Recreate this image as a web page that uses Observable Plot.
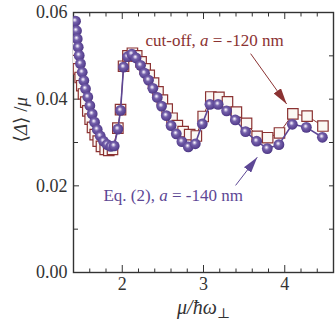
<!DOCTYPE html>
<html><head><meta charset="utf-8">
<script src="https://cdn.jsdelivr.net/npm/d3@7"></script>
<script src="https://cdn.jsdelivr.net/npm/@observablehq/plot@0.6"></script>
<style>
body{margin:0;background:#fff}
#chart svg, #chart svg text, #chart svg tspan {font-family: "Liberation Serif", "Times New Roman", "DejaVu Serif", serif !important;}
</style>
</head><body><div id="chart"></div>
<script>
// Eq. (2), a = -140 nm (purple spheres)
const eqX = [1.425,1.437,1.446,1.458,1.470,1.486,1.507,1.527,1.548,1.576,1.601,1.630,1.659,1.692,1.729,1.769,1.815,1.859,1.901,1.946,1.979,2.016,2.065,2.118,2.170,2.225,2.274,2.324,2.377,2.431,2.484,2.542,2.601,2.665,2.734,2.813,2.899,2.985,3.079,3.180,3.284,3.391,3.518,3.654,3.785,3.928,4.093,4.266,4.463];
const eqY = [0.0580,0.0558,0.0539,0.0520,0.0501,0.0482,0.0462,0.0443,0.0424,0.0405,0.0385,0.0366,0.0347,0.0330,0.0315,0.0303,0.0295,0.0291,0.0292,0.0331,0.0374,0.0474,0.0498,0.0504,0.0495,0.0478,0.0460,0.0444,0.0425,0.0404,0.0384,0.0362,0.0339,0.0320,0.0302,0.0290,0.0297,0.0343,0.0388,0.0388,0.0373,0.0352,0.0325,0.0303,0.0286,0.0295,0.0342,0.0335,0.0312];
// cut-off, a = -120 nm (open squares)
const cutX = [1.421,1.433,1.445,1.461,1.482,1.502,1.523,1.551,1.576,1.605,1.634,1.667,1.704,1.744,1.790,1.834,1.880,1.946,1.979,2.016,2.070,2.125,2.178,2.232,2.282,2.332,2.385,2.440,2.494,2.553,2.613,2.678,2.749,2.830,2.912,2.996,3.090,3.190,3.295,3.405,3.530,3.660,3.790,3.935,4.100,4.275,4.470];
const cutY = [0.0527,0.0508,0.0489,0.0470,0.0450,0.0431,0.0412,0.0393,0.0373,0.0354,0.0335,0.0318,0.0303,0.0291,0.0284,0.0282,0.0284,0.0333,0.0376,0.0476,0.0500,0.0506,0.0500,0.0486,0.0470,0.0455,0.0437,0.0417,0.0398,0.0377,0.0356,0.0339,0.0325,0.0318,0.0315,0.0360,0.0405,0.0404,0.0394,0.0370,0.0344,0.0314,0.0311,0.0322,0.0366,0.0361,0.0338];

const xMajorTicks = [2, 3, 4];
const xMinorTicks = [1.6, 1.8, 2.2, 2.4, 2.6, 2.8, 3.2, 3.4, 3.6, 3.8, 4.2, 4.4];
const yMajorTicks = [0, 0.02, 0.04, 0.06];
const yMinorTicks = [0.01, 0.03, 0.05];

const cutLabel = "cut-off, a = -120 nm";
const eqLabel = "Eq. (2), a = -140 nm";
const cutLabelPos = [2.287, 0.0535];
const eqLabelPos = [1.769, 0.0178];
const cutArrow = [3.58, 0.0505, 4.023, 0.0389];
const eqArrow = [3.395, 0.0201, 3.662, 0.0266];
const xTitle = "μ/ħω⊥";
const yTitle = "⟨Δ⟩ /μ";

const RED = "#8b3232";
const PURPLE = "#5d4795";

const eq = eqX.map((x, i) => ({x, y: eqY[i]}));
const cut = cutX.map((x, i) => ({x, y: cutY[i]}));

const serif = '"Liberation Serif", "Times New Roman", "DejaVu Serif", serif';

const plot = Plot.plot({
  width: 335, height: 324,
  marginLeft: 73, marginRight: 2, marginTop: 12, marginBottom: 52,
  style: {fontFamily: serif, fontSize: "18px", color: "#333", background: "#fff"},
  x: {domain: [1.4, 4.6]},
  y: {domain: [0, 0.06]},
  marks: [
    Plot.axisX(xMinorTicks, {anchor: "bottom", tickSize: -3.5, tickFormat: () => "", label: null, stroke: "#333"}),
    Plot.axisX(xMajorTicks, {anchor: "bottom", tickSize: -7, tickPadding: 12, tickFormat: d => String(d), label: null, fontSize: 18, fontFamily: serif, fill: "#333", stroke: "#333"}),
    Plot.axisX(xMinorTicks, {anchor: "top", tickSize: -3.5, tickFormat: () => "", label: null, stroke: "#333"}),
    Plot.axisX(xMajorTicks, {anchor: "top", tickSize: -6, tickFormat: () => "", label: null, stroke: "#333"}),
    Plot.axisY(yMajorTicks, {anchor: "left", tickSize: -6, tickPadding: 12, tickFormat: d => d.toFixed(2), label: null, fontSize: 18, fontFamily: serif, fill: "#333", stroke: "#333"}),
    Plot.axisY(yMinorTicks, {anchor: "left", tickSize: -5, tickFormat: () => "", label: null, stroke: "#333"}),
    Plot.axisY(yMajorTicks.concat(yMinorTicks), {anchor: "right", tickSize: -5, tickFormat: () => "", label: null, stroke: "#333"}),
    Plot.frame({stroke: "#333", strokeWidth: 1.4}),
    Plot.line(cut, {x: "x", y: "y", stroke: RED, strokeWidth: 1, clip: true}),
    Plot.dot(cut, {x: "x", y: "y", symbol: "square", r: 5.9, fill: "#fbf8f4", stroke: RED, strokeWidth: 1.2, clip: true}),
    Plot.line(eq, {x: "x", y: "y", stroke: PURPLE, strokeWidth: 1.6, clip: true}),
    Plot.dot(eq, {x: "x", y: "y", r: 5.4, fill: "url(#sphere)", stroke: "none", clip: true}),
    Plot.text([cutLabel], {x: cutLabelPos[0], y: cutLabelPos[1], text: d => d, textAnchor: "start", fill: RED, fontSize: 17, fontFamily: serif, ariaDescription: "label-cut"}),
    Plot.text([eqLabel], {x: eqLabelPos[0], y: eqLabelPos[1], text: d => d, textAnchor: "start", fill: PURPLE, fontSize: 17, fontFamily: serif, ariaDescription: "label-eq"}),
    Plot.link([cutArrow], {x1: d => d[0], y1: d => d[1], x2: d => d[2], y2: d => d[3], stroke: RED, strokeWidth: 1, ariaDescription: "arrow-red"}),
    Plot.link([eqArrow], {x1: d => d[0], y1: d => d[1], x2: d => d[2], y2: d => d[3], stroke: PURPLE, strokeWidth: 1, ariaDescription: "arrow-purple"}),
    Plot.text([xTitle], {frameAnchor: "bottom", dy: 41, text: d => d, fontSize: 20, fontStyle: "italic", fontFamily: serif, fill: "#333", ariaDescription: "x-title"}),
    Plot.text([yTitle], {frameAnchor: "left", dx: -53, rotate: -90, text: d => d, fontSize: 19, fontFamily: serif, fill: "#333", ariaDescription: "y-title"})
  ]
});

document.getElementById("chart").appendChild(plot);

// decorations: sphere gradient & filled arrowheads
const svg = d3.select(plot);
const defs = svg.insert("defs", ":first-child");
const grad = defs.append("radialGradient").attr("id", "sphere")
  .attr("cx", "0.45").attr("cy", "0.45").attr("r", "0.6").attr("fx", "0.42").attr("fy", "0.38");
[["0%", "#ffffff"], ["14%", "#d2c8e6"], ["38%", "#7461aa"], ["75%", "#5b4494"], ["100%", "#45327a"]]
  .forEach(([o, c]) => grad.append("stop").attr("offset", o).attr("stop-color", c));
function addMarker(id, color) {
  const m = defs.append("marker").attr("id", id).attr("viewBox", "0 -4.5 16 9")
    .attr("refX", 16).attr("refY", 0).attr("markerUnits", "userSpaceOnUse")
    .attr("markerWidth", 16).attr("markerHeight", 9).attr("orient", "auto");
  m.append("path").attr("d", "M0,-4.5L16,0L0,4.5Z").attr("fill", color).attr("stroke", "none");
}
addMarker("head-red", RED);
addMarker("head-purple", PURPLE);
function groupOf(desc) {
  return svg.selectAll("g").filter(function() { return this.getAttribute("aria-description") === desc; });
}
groupOf("arrow-red").selectAll("path").attr("marker-end", "url(#head-red)");
groupOf("arrow-purple").selectAll("path").attr("marker-end", "url(#head-purple)");

// italic variable "a" in annotations
function italicA(desc) {
  groupOf(desc).selectAll("text").each(function() {
    const t = this.textContent;
    const i = t.indexOf(" a ");
    if (i < 0) return;
    const sel = d3.select(this);
    sel.text(null);
    sel.append("tspan").text(t.slice(0, i + 1));
    sel.append("tspan").attr("font-style", "italic").text("a");
    sel.append("tspan").text(t.slice(i + 2));
  });
}
italicA("label-cut");
italicA("label-eq");

// subscript ⊥ in x title
groupOf("x-title").selectAll("text").each(function() {
  const t = this.textContent;
  const sel = d3.select(this);
  sel.text(null);
  sel.append("tspan").text(t.slice(0, -1));
  sel.append("tspan").attr("dy", "0.35em").attr("font-size", "14px").attr("font-style", "normal").text(t.slice(-1));
});
// italic μ / Δ in y title
groupOf("y-title").selectAll("text").each(function() {
  const t = this.textContent;
  const sel = d3.select(this);
  sel.text(null);
  for (const ch of t) {
    const sp = sel.append("tspan").text(ch);
    if (ch === "μ" || ch === "Δ") sp.attr("font-style", "italic");
  }
});
</script>
</body></html>
